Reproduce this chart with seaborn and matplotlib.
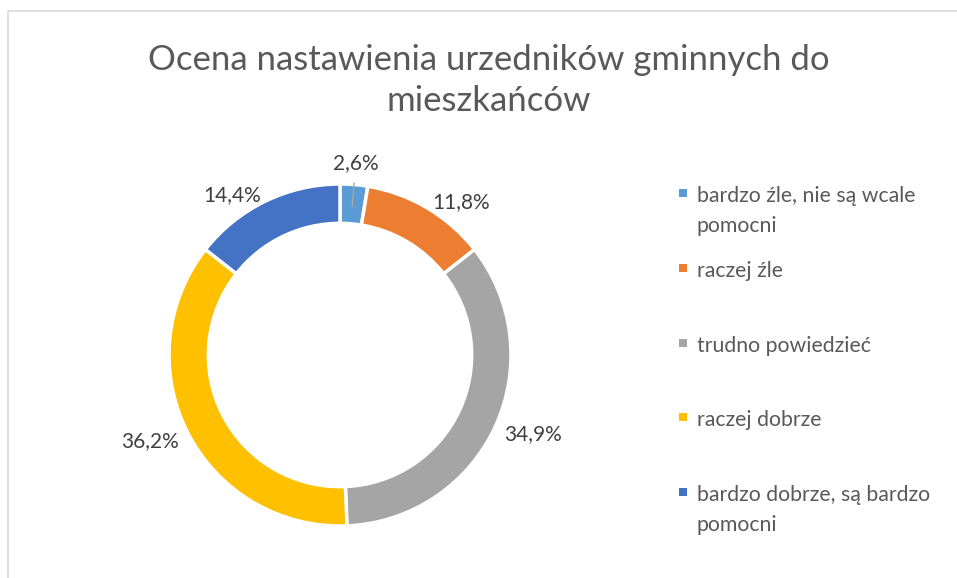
import numpy as np
import pandas as pd
import seaborn as sns
import matplotlib.pyplot as plt
from matplotlib.lines import Line2D
from matplotlib.patches import Rectangle

title = "Ocena nastawienia urzedników gminnych do\nmieszkańców"
categories = [
    "bardzo źle, nie są wcale\npomocni",
    "raczej źle",
    "trudno powiedzieć",
    "raczej dobrze",
    "bardzo dobrze, są bardzo\npomocni",
]
shares = [2.6, 11.8, 34.9, 36.2, 14.4]
colors = ["#5B9BD5", "#ED7D31", "#A5A5A5", "#FFC000", "#4472C4"]

df = pd.DataFrame({"kategoria": categories, "udzial": shares, "kolor": colors})

sns.set_theme(style="white")
plt.rcParams["font.family"] = ["Lato", "DejaVu Sans"]

W, H = 957, 578
fig = plt.figure(figsize=(W / 100, H / 100), dpi=100)

# chart border (only left and top visible in the crop)
fig.add_artist(Line2D([8 / W, 8 / W, 1], [0, 1 - 11 / H, 1 - 11 / H],
                      transform=fig.transFigure, color="#d9d9d9", lw=1.2))

# donut axes: centre (340, 355) px, outer radius 171 px
cx, cy, R = 340, H - 355, 171
lim = 1.3
ax = fig.add_axes([(cx - R * lim) / W, (cy - R * lim) / H,
                   2 * R * lim / W, 2 * R * lim / H])

wedges, _ = ax.pie(df["udzial"], colors=df["kolor"], startangle=90,
                   counterclock=False, radius=1.0,
                   wedgeprops=dict(width=0.23, edgecolor="white", linewidth=2.5))
# pie() resets the limits, so set them afterwards
ax.set_xlim(-lim, lim)
ax.set_ylim(-lim, lim)
ax.set_aspect("equal")
ax.axis("off")

label_color = "#404040"
for w, v in zip(wedges, df["udzial"]):
    ang = np.deg2rad((w.theta1 + w.theta2) / 2)
    txt = f"{v:.1f}".replace(".", ",") + "%"
    if v < 5:
        # small slice: label above with leader line
        ax.plot([0.87 * np.cos(ang), 1.01 * np.cos(ang)],
                [0.87 * np.sin(ang), 1.01 * np.sin(ang)],
                color="#a6a6a6", lw=1)
        ax.text(1.125 * np.cos(ang), 1.125 * np.sin(ang), txt, ha="center",
                va="center", fontsize=15, color=label_color)
        continue
    r = 1.06
    x, y = r * np.cos(ang), r * np.sin(ang) - 0.02
    ha = "left" if x > 0 else "right"
    ax.text(x, y, txt, ha=ha, va="center", fontsize=15, color=label_color)

fig.text(489 / W, 1 - 44 / H, title, ha="center", va="top", fontsize=25,
         color="#595959", linespacing=1.35)

# legend: one square per entry, wrapped lines 30 px apart
leg_y = [193, 268, 343, 417, 492]
for name, col, ly in zip(df["kategoria"], df["kolor"], leg_y):
    fig.add_artist(Rectangle(((683 - 4) / W, 1 - (ly + 4) / H), 8 / W, 8 / H,
                             transform=fig.transFigure, color=col, lw=0))
    for i, line in enumerate(name.split("\n")):
        fig.text(697 / W, 1 - (ly + 1 + 30 * i) / H, line, ha="left",
                 va="center_baseline", fontsize=15.3, color="#595959")

fig.savefig("out.png", dpi=100)
